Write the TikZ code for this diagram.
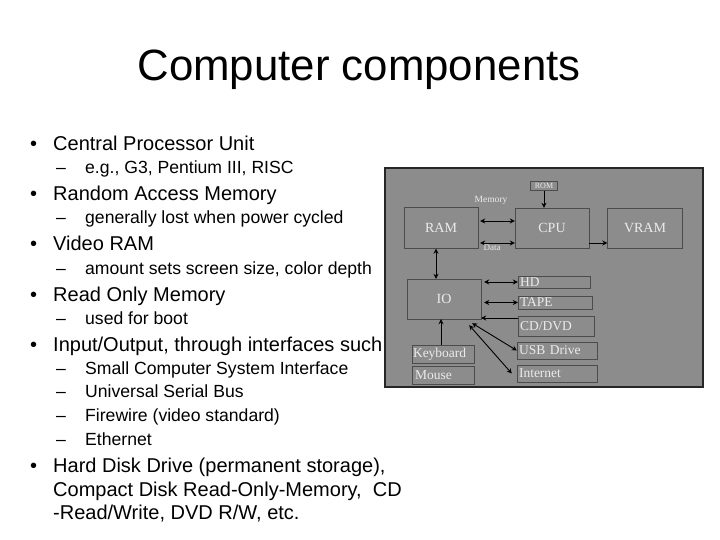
\documentclass[tikz,border=0pt]{standalone}
\usepackage{fontspec}
\setmainfont{Liberation Sans}
\usepackage{tikz}
\usetikzlibrary{arrows.meta}

\tikzset{
  blk/.style={draw=black!70, fill=black!45, text=black!8, inner sep=0pt},
  big/.style={font=\fontspec{Liberation Serif}\fontsize{14}{16}\selectfont},
  sml/.style={font=\fontspec{Liberation Serif}\fontsize{13.5}{15}\selectfont},
  lnk/.style={-{Stealth[length=5pt,width=5pt]}, line width=0.9pt},
  dlnk/.style={{Stealth[length=5pt,width=5pt]}-{Stealth[length=5pt,width=5pt]}, line width=0.9pt},
  bul/.style={anchor=base west, inner sep=0pt, font=\fontsize{20}{22}\selectfont},
  sub/.style={anchor=base west, inner sep=0pt, font=\fontsize{17.6}{19}\selectfont}
}

\begin{document}
\begin{tikzpicture}[x=1pt,y=-1pt]
        \useasboundingbox (0,0) rectangle (720,540);
        \fill[white] (0,0) rectangle (720,540);

        % Title
        \node (title) at (359,70) {\fontsize{43.8}{48}\selectfont Computer components};

        % Bullets (baselines)
        \foreach \y/\t [count=\i] in {151/Central Processor Unit, 201/Random Access Memory, 251/Video RAM,
            301/Read Only Memory, 351/{Input/Output, through interfaces such as},
            472/{Hard Disk Drive (permanent storage),}} {
          \node[bul] (dot\i) at (30,\y) {\textbullet};
          \node[bul] (b\i) at (53,\y) {\t};
        }
        \node[bul] (b7) at (53,496) {Compact Disk Read-Only-Memory,\ \ CD};
        \node[bul] (b8) at (53,519) {-Read/Write, DVD R/W, etc.};

        % Sub items (baselines)
        \foreach \y/\t [count=\i] in {174/{e.g., G3, Pentium III, RISC}, 224/generally lost when power cycled,
            274/{amount sets screen size, color depth}, 324/used for boot, 374/Small Computer System Interface,
            397/Universal Serial Bus, 421/Firewire (video standard), 445/Ethernet} {
          \node[sub] (dash\i) at (56,\y) {--};
          \node[sub] (s\i) at (85,\y) {\t};
        }

        % Diagram panel
        \draw[line width=1.5pt, draw=black!85, fill=black!45] (385,168) rectangle (703,387);

        \node[blk, big, minimum width=74pt, minimum height=41pt] (ram) at (441,228) {RAM};
        \node[blk, big, minimum width=74pt, minimum height=40pt] (cpu) at (552,228) {CPU};
        \node[blk, big, minimum width=75pt, minimum height=40pt] (vram) at (645,228) {VRAM};
        \node[blk, minimum width=27pt, minimum height=9pt, font=\fontspec{Liberation Serif}\fontsize{8}{9}\selectfont] (rom) at (544,186) {ROM};
        \node[blk, big, minimum width=74pt, minimum height=40pt] (io) at (444,299) {IO};

        \node[blk, sml, minimum width=72pt, minimum height=12pt, text width=68pt] (hd) at (554,282) {HD};
        \node[blk, sml, minimum width=74pt, minimum height=13pt, text width=70pt] (tape) at (555,302.5) {TAPE};
        \node[blk, sml, minimum width=76pt, minimum height=20pt, text width=72pt] (cd) at (556,326) {CD/DVD};
        \node[blk, sml, minimum width=80pt, minimum height=17pt, text width=76pt] (usb) at (557,350.5) {USB Drive};
        \node[blk, sml, minimum width=80pt, minimum height=17pt, text width=76pt] (inet) at (557,373.5) {Internet};
        \node[blk, sml, minimum width=62pt, minimum height=18pt, text width=60pt] (kbd) at (443,354) {Keyboard};
        \node[blk, sml, minimum width=62pt, minimum height=18pt, text width=56pt] (mouse) at (443,375) {Mouse};

        % Connectors
        \draw[dlnk] ([yshift=-15pt]ram.east) ++(2,0) coordinate (m1) -- ([yshift=-15pt]cpu.west) coordinate (m2);
        \draw[dlnk] ([yshift=7pt]ram.east) ++(2,0) coordinate (d1) -- ([yshift=7pt]cpu.west) coordinate (d2);
        \node[text=black!8, font=\fontspec{Liberation Serif}\fontsize{9.5}{10}\selectfont] (memlbl) at (491,200) {Memory};
        \node[text=black!8, font=\fontspec{Liberation Serif}\fontsize{9}{10}\selectfont] (datalbl) at (492,248) {Data};
        \draw[lnk] (rom) -- (cpu.north -| rom);
        \draw[lnk] ([yshift=-15pt]cpu.east) -- ([yshift=-15pt]vram.west);
        \draw[dlnk] (ram.south -| 436,0) -- (io.north -| 436,0);
        \draw[dlnk] (io.east |- hd) ++(3,0) -- (hd.west);
        \draw[dlnk] (io.east |- tape) ++(3,0) -- (tape.west);
        \draw[lnk] (cd.west |- 0,318) -- (io.east |- 0,318);
        \draw[dlnk] (io.south east) ++(-9,4) coordinate (u1) -- (usb.west);
        \draw[dlnk] (io.south east) ++(-12,6) coordinate (u2) -- ([xshift=-5pt]inet.west);
        \draw[lnk] (kbd.north -| 441,0) -- (io.south -| 441,0);
\end{tikzpicture}
\end{document}
